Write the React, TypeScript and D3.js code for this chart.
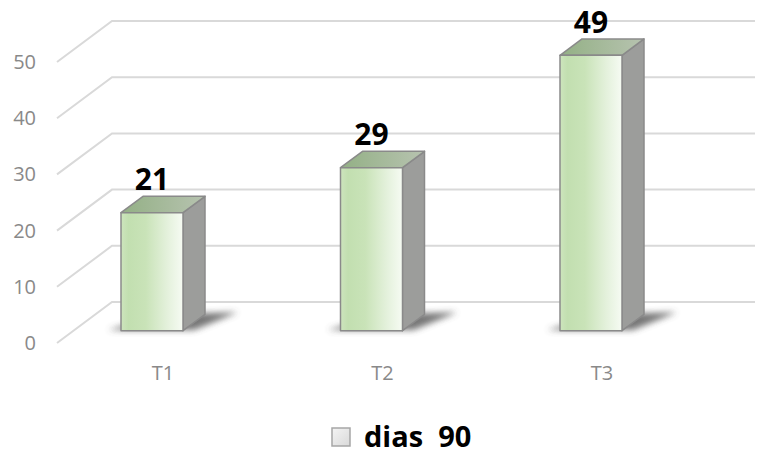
import React from "react";
import * as d3 from "d3";

const categories = ["T1", "T2", "T3"];
const values = [21, 29, 49];
const yTicks = [0, 10, 20, 30, 40, 50];
const seriesName = "dias  90";

const W = 759;
const H = 454;
const DX = 55; // floor depth offset in x
const DY = 41; // floor depth offset in y
const Z0 = 0.3; // bar front depth
const Z1 = 0.7; // bar back depth

export default function App() {
  const y = d3.scaleLinear().domain([0, 50]).range([343, 62]);
  const x = d3.scaleBand<string>().domain(categories).range([25.75, 684.25]).padding(0);
  const barW = 62;
  const axisX = 57;
  const wallRight = 755;
  const font = "'Open Sans', 'Liberation Sans', sans-serif";

  const P = (sx: number, v: number, z: number): [number, number] => [sx + z * DX, y(v) - z * DY];
  const pts = (arr: [number, number][]) => arr.map((p) => p.join(",")).join(" ");

  return (
    <svg
      width={W}
      height={H}
      style={{ position: "absolute", left: 0, top: 0, background: "#fff" }}
      xmlns="http://www.w3.org/2000/svg"
    >
      <defs>
        <linearGradient id="front" x1="0" x2="1" y1="0" y2="0">
          <stop offset="0" stopColor="#cde5bd" />
          <stop offset="0.12" stopColor="#c2dfb0" />
          <stop offset="0.4" stopColor="#c9e3b8" />
          <stop offset="0.75" stopColor="#e4f1dc" />
          <stop offset="1" stopColor="#f6fbf3" />
        </linearGradient>
        <linearGradient id="top" x1="0" x2="1" y1="0" y2="0">
          <stop offset="0" stopColor="#93b085" />
          <stop offset="1" stopColor="#b7c3b0" />
        </linearGradient>
        <linearGradient id="legendBox" x1="0" x2="1" y1="0" y2="1">
          <stop offset="0" stopColor="#f4f4f4" />
          <stop offset="1" stopColor="#d9d9d9" />
        </linearGradient>
        <filter id="blur" x="-50%" y="-50%" width="200%" height="200%">
          <feGaussianBlur stdDeviation="3" />
        </filter>
      </defs>
      <rect x={0} y={0} width={W} height={H} fill="#fff" />

      {/* gridlines */}
      {yTicks.map((t) => {
        const a = P(axisX, t, 0);
        const b = P(axisX, t, 1);
        return (
          <g key={t}>
            <polyline
              points={pts([a, b, [wallRight, b[1]]])}
              fill="none"
              stroke="#d9d9d9"
              strokeWidth={2}
            />
            <text
              x={36}
              y={a[1]}
              dy="0.35em"
              textAnchor="end"
              fontFamily={font}
              fontSize={20}
              fill="#898989"
            >
              {t}
            </text>
          </g>
        );
      })}

      {/* bars */}
      {categories.map((c, i) => {
        const v = values[i];
        const cx = (x(c) as number) + x.bandwidth() / 2;
        const l = cx - barW / 2;
        const r = cx + barW / 2;
        const fbl = P(l, 0, Z0);
        const ftl = P(l, v, Z0);
        const ftr = P(r, v, Z0);
        const fbr = P(r, 0, Z0);
        const btl = P(l, v, Z1);
        const btr = P(r, v, Z1);
        const bbr = P(r, 0, Z1);
        const sh1 = P(l - 14, 0, Z0 + 0.02);
        const sh2 = P(r + 10, 0, Z0 + 0.02);
        const sh3 = P(r + 30, 0, Z1 + 0.05);
        const sh4 = P(l + 20, 0, Z1);
        return (
          <g key={c}>
            <polygon points={pts([sh1, sh2, sh3, sh4])} fill="#4a4a4a" opacity={0.75} filter="url(#blur)" />
            <polygon points={pts([fbr, ftr, btr, bbr])} fill="#9c9d9b" stroke="#8a8a8a" strokeWidth={1.5} strokeLinejoin="round" />
            <polygon points={pts([ftl, ftr, btr, btl])} fill="url(#top)" stroke="#8a8a8a" strokeWidth={1.5} strokeLinejoin="round" />
            <polygon points={pts([fbl, ftl, ftr, fbr])} fill="url(#front)" stroke="#8a8a8a" strokeWidth={1.5} strokeLinejoin="round" />
            <text
              x={(ftl[0] + ftr[0]) / 2}
              y={ftl[1] - 22.5}
              textAnchor="middle"
              fontFamily={font}
              fontWeight="bold"
              fontSize={30}
              fill="#000"
            >
              {v}
            </text>
            <text
              x={cx + 0.5 * DX}
              y={380}
              textAnchor="middle"
              fontFamily={font}
              fontSize={20}
              fill="#898989"
            >
              {c}
            </text>
          </g>
        );
      })}

      {/* legend */}
      <rect x={332} y={428} width={18} height={18} fill="url(#legendBox)" stroke="#a6a6a6" strokeWidth={1.5} />
      <text
        x={364}
        y={447}
        fontFamily={font}
        fontWeight="bold"
        fontSize={29}
        fill="#000"
        style={{ whiteSpace: "pre" }}
      >
        {seriesName}
      </text>
    </svg>
  );
}
